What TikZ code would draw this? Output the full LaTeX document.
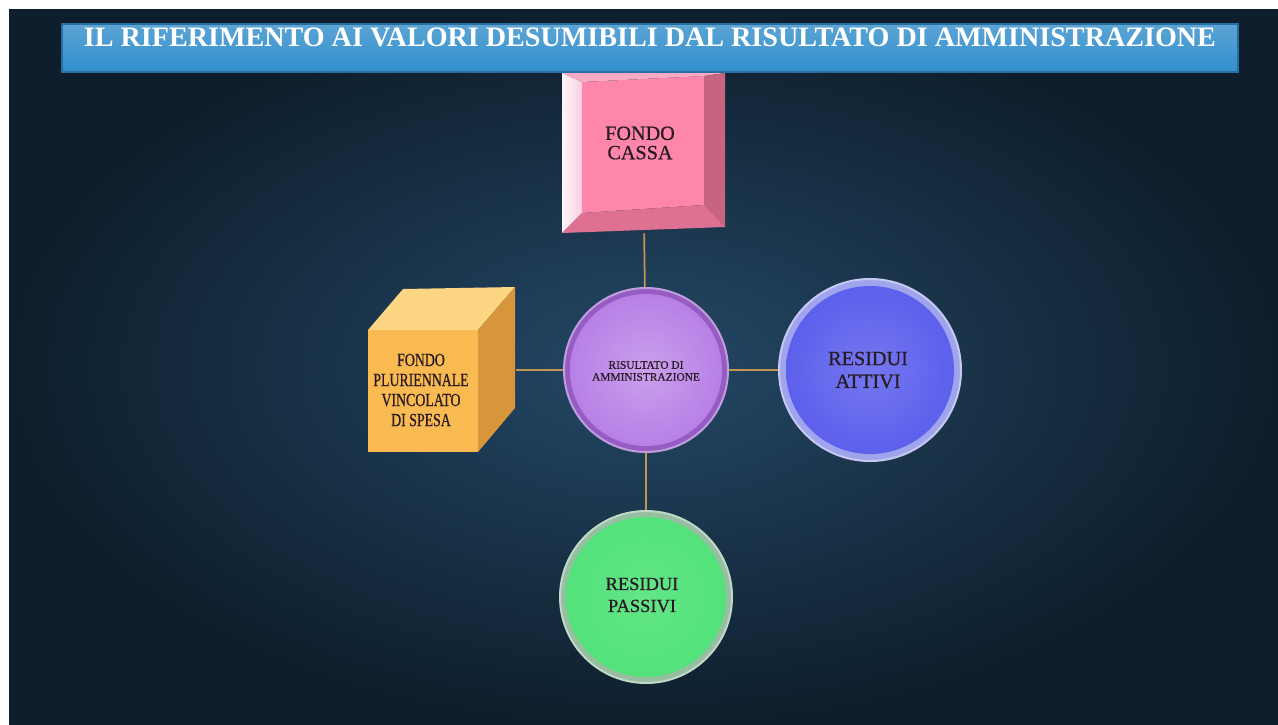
\documentclass[tikz,border=0pt]{standalone}
\usepackage{fontspec}
\setmainfont{Liberation Serif}
\newfontfamily\slabfont[FakeBold=0.6]{Liberation Serif}
\newfontfamily\slabnarrow[FakeStretch=0.75, FakeBold=0.6]{Liberation Serif}
\usetikzlibrary{positioning}

\definecolor{bgmid}{RGB}{36,72,102}
\definecolor{bgedge}{RGB}{14,30,44}
\definecolor{bantop}{RGB}{92,164,212}
\definecolor{banbot}{RGB}{48,144,206}
\definecolor{banline}{RGB}{40,110,160}
\definecolor{linkcol}{RGB}{192,150,82}
\definecolor{inkcol}{RGB}{40,26,34}
\definecolor{pinkface}{RGB}{253,134,170}
\definecolor{pinkleft}{RGB}{250,206,224}
\definecolor{pinktop}{RGB}{249,170,198}
\definecolor{pinkright}{RGB}{200,100,127}
\definecolor{pinkbot}{RGB}{222,112,146}
\definecolor{cubefront}{RGB}{250,186,82}
\definecolor{cubetop}{RGB}{252,214,130}
\definecolor{cuberight}{RGB}{216,150,60}
\definecolor{violface}{RGB}{184,128,230}
\definecolor{violrim}{RGB}{150,92,196}
\definecolor{blueface}{RGB}{92,96,236}
\definecolor{bluerim}{RGB}{160,164,236}
\definecolor{greenface}{RGB}{82,226,122}
\definecolor{greenrim}{RGB}{150,190,160}

\begin{document}
\begin{tikzpicture}[x=0.2mm, y=-0.2mm,
    link/.style={linkcol, line width=0.35mm},
    shapetext/.style={inkcol, align=center, inner sep=0pt},
    disc/.style={circle, draw=#1!60!white, line width=0.4mm, inner sep=0pt}]
    \useasboundingbox (0,0) rectangle (1278,724);

    % ===== background =====
    \fill[white] (0,0) rectangle (1278,724);
    \shade[inner color=bgmid, outer color=bgedge] (9,9) rectangle (1278,724);

    % ===== title banner =====
    \shade[top color=bantop, bottom color=banbot, draw=banline, line width=0.3mm]
        (62,24) rectangle (1238,72);
    \node[white, font=\fontsize{16}{18}\selectfont\bfseries, anchor=base] (title)
        at (650,46) {IL RIFERIMENTO AI VALORI DESUMIBILI DAL RISULTATO DI AMMINISTRAZIONE};

    % ===== fondo cassa (bevelled square) =====
    \fill[pinkface] (582,82) -- (704,76) -- (704,205) -- (582,213) -- cycle;
    \shade[left color=white!80!pinkleft, right color=pinkleft] (562,73) -- (582,82) -- (582,213) -- (562,233) -- cycle;
    \fill[pinktop] (562,73) -- (725,73) -- (704,76) -- (582,82) -- cycle;
    \fill[pinkright] (725,73) -- (725,227) -- (704,205) -- (704,76) -- cycle;
    \fill[pinkbot] (562,233) -- (582,213) -- (704,205) -- (725,227) -- cycle;
    \node[minimum width=32.6mm, minimum height=32mm, inner sep=0pt] (cassa) at (643,153) {};
    \node[shapetext, font=\slabfont\fontsize{11.5}{11}\selectfont] (cassatext) at (640,143) {FONDO\\CASSA};

    % ===== fondo pluriennale vincolato (cube) =====
    \fill[cubetop] (368,330) -- (403,289) -- (515,287) -- (478,330) -- cycle;
    \fill[cuberight] (478,330) -- (515,287) -- (515,408) -- (478,452) -- cycle;
    \node[fill=cubefront, minimum width=22mm, minimum height=24.4mm, inner sep=0pt] (fpv) at (423,391) {};
    \coordinate (fpvside) at (516,370);
    \node[shapetext, font=\slabnarrow\fontsize{10.5}{11.4}\selectfont] (fpvtext) at (421,390)
        {FONDO\\PLURIENNALE\\VINCOLATO\\DI SPESA};

    % ===== discs =====
    \node[disc=violrim, fill=violrim, minimum size=32.8mm] (ris) at (646,370) {};
    \shade[inner color=violface!75!white, outer color=violface] (ris.center) circle (76);
    \node[shapetext, font=\slabfont\fontsize{6.5}{6.8}\selectfont] (ristext) at (646,371) {RISULTATO DI\\AMMINISTRAZIONE};

    \node[disc=bluerim, fill=bluerim, minimum size=36.4mm] (attivi) at (870,370) {};
    \shade[inner color=blueface!85!white, outer color=blueface] (attivi.center) circle (84);
    \node[shapetext, font=\slabfont\fontsize{11.5}{13}\selectfont] (attivitext) at (868,370) {RESIDUI\\ATTIVI};

    \node[disc=greenrim, fill=greenrim, minimum size=34.4mm] (passivi) at (646,597) {};
    \shade[inner color=greenface!90!white, outer color=greenface] (passivi.center) circle (80);
    \node[shapetext, font=\slabfont\fontsize{10.5}{12.5}\selectfont] (passivitext) at (642,595) {RESIDUI\\PASSIVI};

    % ===== connectors =====
    \draw[link] (cassa) -- (ris);
    \draw[link] (fpvside) -- (ris);
    \draw[link] (ris) -- (attivi);
    \draw[link] (ris) -- (passivi);
\end{tikzpicture}
\end{document}
